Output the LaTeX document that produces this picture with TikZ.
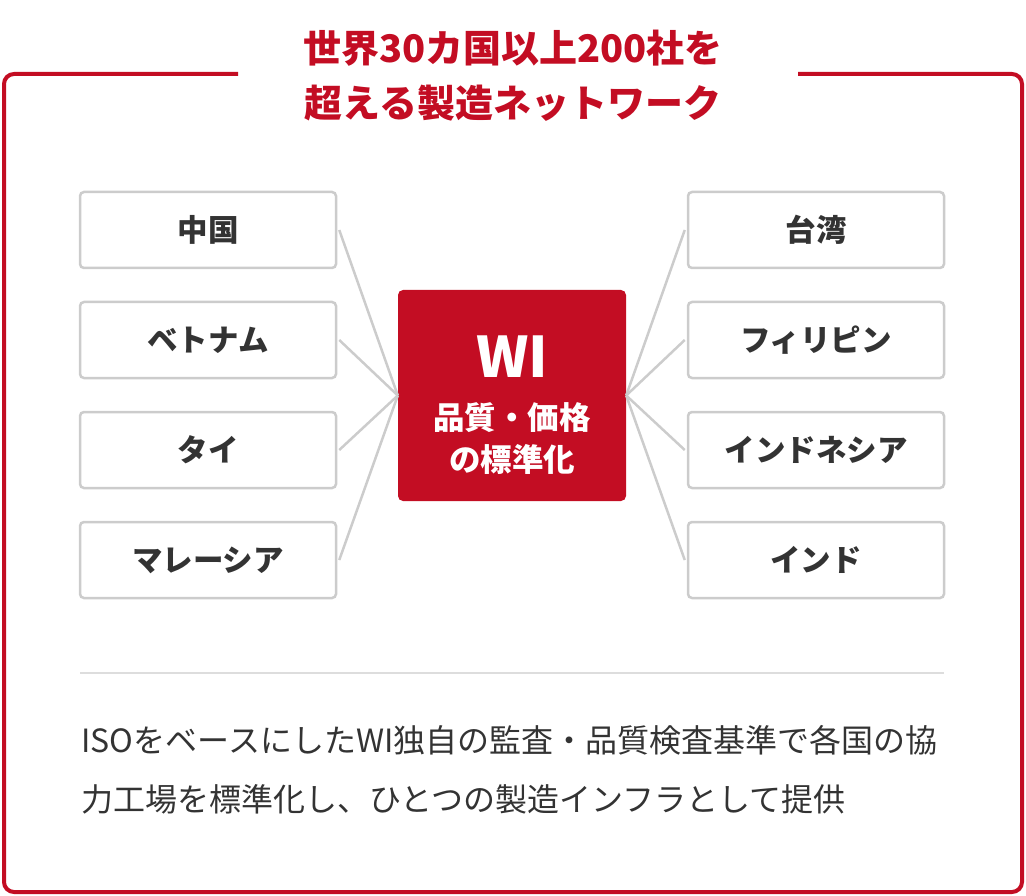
\documentclass[tikz,border=0pt]{standalone}
\usepackage{fontspec}
\setmainfont{Noto Sans CJK JP}
\newfontfamily\jpfont{Noto Sans CJK JP}
\usepackage{tikz}

\definecolor{wired}{HTML}{C30D23}
\definecolor{boxgray}{HTML}{CCCCCC}
\definecolor{txtgray}{HTML}{333333}
\definecolor{rulegray}{HTML}{DDDDDD}

\tikzset{
  country/.style={draw=boxgray, line width=2.5pt, rounded corners=4pt, fill=white,
    minimum width=256pt, minimum height=76pt, inner sep=0pt,
    text=txtgray, font=\jpfont\bfseries\fontsize{30.5pt}{34pt}\selectfont},
  link/.style={draw=boxgray, line width=2.5pt},
}

\begin{document}
\begin{tikzpicture}[x=1pt,y=-1pt]
\useasboundingbox (0,0) rectangle (1026,896);

% outer frame
\draw[wired, line width=4pt, rounded corners=10pt]
  (238,74) -- (4,74) -- (4,892) -- (1022,892) -- (1022,74) -- (798,74);

\node[text=wired, font=\bfseries\fontsize{38pt}{55pt}\selectfont, align=center] (title) at (513,76)
  {世界30カ国以上200社を\\超える製造ネットワーク};

% center box
\node[fill=wired, rounded corners=5pt, minimum width=228pt, minimum height=211pt] (wi) at (512,395.5) {};
\node[text=white, font=\bfseries\fontsize{56pt}{56pt}\selectfont] (winame) at (512,357) {WI};
\node[text=white, font=\bfseries\fontsize{31.5pt}{42pt}\selectfont, align=center] (wisub) at (512,439)
  {品質・価格\\の標準化};

% left countries
\node[country] (cn) at (208,230) {中国};
\node[country] (vn) at (208,340) {ベトナム};
\node[country] (th) at (208,450) {タイ};
\node[country] (my) at (208,560) {マレーシア};

% right countries
\node[country] (tw) at (816,230) {台湾};
\node[country] (ph) at (816,340) {フィリピン};
\node[country] (id) at (816,450) {インドネシア};
\node[country] (in) at (816,560) {インド};

\foreach \c in {cn,vn,th,my}
  \draw[link] ([xshift=2pt]\c.east) -- (wi.west);
\foreach \c in {tw,ph,id,in}
  \draw[link] ([xshift=-2pt]\c.west) -- (wi.east);

\draw[rulegray, line width=2pt] (80,673) -- (944,673);

\node[anchor=west, text=txtgray, font=\fontsize{32pt}{59pt}\selectfont, align=left] (desc) at (78,770)
  {ISOをベースにしたWI独自の監査・品質検査基準で各国の協\\力工場を標準化し、ひとつの製造インフラとして提供};

\end{tikzpicture}
\end{document}
